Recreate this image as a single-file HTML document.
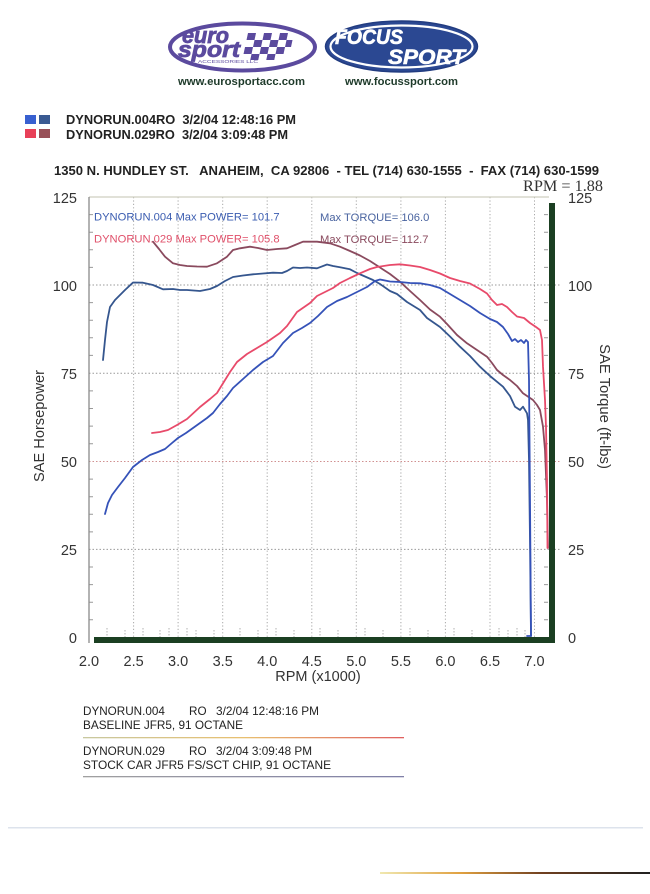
<!DOCTYPE html>
<html><head><meta charset="utf-8"><style>
html,body{margin:0;padding:0;background:#fff;}
svg{display:block;}
</style></head><body>
<svg width="650" height="894" viewBox="0 0 650 894" xmlns="http://www.w3.org/2000/svg" font-family="Liberation Sans, Arial, sans-serif">
<rect width="650" height="894" fill="#fff"/>

<!-- Eurosport logo -->
<ellipse cx="242.5" cy="47" rx="72.5" ry="23.5" fill="#fff" stroke="#5b4a9e" stroke-width="4"/>
<text x="182" y="43" font-size="22" font-weight="bold" font-style="italic" fill="#5b4a9e" stroke="#5b4a9e" stroke-width="0.8" textLength="47" lengthAdjust="spacingAndGlyphs">euro</text>
<text x="178" y="57" font-size="22" font-weight="bold" font-style="italic" fill="#5b4a9e" stroke="#5b4a9e" stroke-width="0.8" textLength="62" lengthAdjust="spacingAndGlyphs">sport</text>
<g fill="#5b4a9e" transform="translate(244,33) skewX(-12)">
<rect x="4" y="0" width="8" height="7"/><rect x="20" y="0" width="8" height="7"/><rect x="36" y="0" width="8" height="7"/>
<rect x="12" y="7" width="8" height="7"/><rect x="28" y="7" width="8" height="7"/><rect x="44" y="7" width="6" height="7"/>
<rect x="4" y="14" width="8" height="7"/><rect x="20" y="14" width="8" height="7"/><rect x="36" y="14" width="8" height="7"/>
<rect x="12" y="21" width="8" height="6"/><rect x="28" y="21" width="8" height="6"/>
</g>
<text x="198" y="63" font-size="4.5" fill="#5b4a9e" textLength="60" lengthAdjust="spacingAndGlyphs">ACCESSORIES LLC</text>
<text x="178" y="85" font-size="11.4" font-weight="bold" fill="#1e3a2a" textLength="127" lengthAdjust="spacingAndGlyphs">www.eurosportacc.com</text>

<!-- Focus Sport logo -->
<ellipse cx="401.5" cy="46.5" rx="76" ry="25.5" fill="#2b4892" stroke="#223c80" stroke-width="1.5"/>
<ellipse cx="401.5" cy="46.5" rx="71" ry="21" fill="none" stroke="#fff" stroke-width="2.2"/>
<text x="335" y="44" font-size="21" font-weight="bold" font-style="italic" fill="#fff" stroke="#fff" stroke-width="0.6" textLength="68" lengthAdjust="spacingAndGlyphs">FOCUS</text>
<text x="388" y="64" font-size="21" font-weight="bold" font-style="italic" fill="#fff" stroke="#fff" stroke-width="0.6" textLength="77" lengthAdjust="spacingAndGlyphs">SPORT</text>
<text x="345" y="85" font-size="11.4" font-weight="bold" fill="#1e3a2a" textLength="113" lengthAdjust="spacingAndGlyphs">www.focussport.com</text>

<!-- header legend -->
<rect x="25" y="115" width="11" height="9" fill="#3860d0"/>
<rect x="39" y="115" width="11" height="9" fill="#3a5a92"/>
<rect x="25" y="129" width="11" height="9" fill="#e84058"/>
<rect x="39" y="129" width="11" height="9" fill="#985058"/>
<text x="66" y="124" font-size="13" font-weight="bold" fill="#222" textLength="230" lengthAdjust="spacingAndGlyphs" xml:space="preserve">DYNORUN.004RO  3/2/04 12:48:16 PM</text>
<text x="66" y="139" font-size="13" font-weight="bold" fill="#222" textLength="222" lengthAdjust="spacingAndGlyphs" xml:space="preserve">DYNORUN.029RO  3/2/04 3:09:48 PM</text>

<text x="54" y="175" font-size="13" font-weight="bold" fill="#222" textLength="545" lengthAdjust="spacingAndGlyphs" xml:space="preserve">1350 N. HUNDLEY ST.   ANAHEIM,  CA 92806  - TEL (714) 630-1555  -  FAX (714) 630-1599</text>

<text x="523" y="191" font-family="Liberation Serif, Times New Roman, serif" font-size="15.5" fill="#333" textLength="80" lengthAdjust="spacingAndGlyphs">RPM = 1.88</text>

<!-- grid -->
<g stroke="#a8a8a8" stroke-width="1" stroke-dasharray="1.2 2.2" fill="none">
<line x1="133.6" y1="197" x2="133.6" y2="637"/>
<line x1="178.1" y1="197" x2="178.1" y2="637"/>
<line x1="222.7" y1="197" x2="222.7" y2="637"/>
<line x1="267.2" y1="197" x2="267.2" y2="637"/>
<line x1="311.8" y1="197" x2="311.8" y2="637"/>
<line x1="356.3" y1="197" x2="356.3" y2="637"/>
<line x1="400.9" y1="197" x2="400.9" y2="637"/>
<line x1="445.4" y1="197" x2="445.4" y2="637"/>
<line x1="490.0" y1="197" x2="490.0" y2="637"/>
<line x1="534.5" y1="197" x2="534.5" y2="637"/>
</g>
<g stroke="#999" stroke-width="1" stroke-dasharray="1.5 2" fill="none">
<line x1="89" y1="285" x2="561" y2="285"/>
<line x1="89" y1="373.3" x2="561" y2="373.3"/>
<line x1="89" y1="461.5" x2="561" y2="461.5" stroke="#d09090"/>
<line x1="89" y1="549.4" x2="561" y2="549.4"/>
</g>

<!-- minor ticks -->
<g stroke="#999" stroke-width="1">
<path d="M89 214.6h4M89 232.2h4M89 249.8h4M89 267.4h4M89 302.6h4M89 320.2h4M89 337.8h4M89 355.4h4M89 390.9h4M89 408.5h4M89 426.1h4M89 443.7h4M89 479.1h4M89 496.7h4M89 514.3h4M89 531.9h4M89 567h4M89 584.6h4M89 602.2h4M89 619.8h4"/>
<path d="M544 214.6h4M544 232.2h4M544 249.8h4M544 267.4h4M544 302.6h4M544 320.2h4M544 337.8h4M544 355.4h4M544 390.9h4M544 408.5h4M544 426.1h4M544 443.7h4M544 479.1h4M544 496.7h4M544 514.3h4M544 531.9h4M544 567h4M544 584.6h4M544 602.2h4M544 619.8h4"/>
</g>
<g stroke="#b0b0b0" stroke-width="1" stroke-dasharray="1.5 1.5">
<path d="M107 628v9M125 630v7M143 628v9M160 630v7M169 628v9M187 628v9M196 630v7M214 630v7M240 628v9M258 630v7M276 628v9M294 630v7M320 628v9M338 630v7M365 628v9M383 630v7M410 628v9M428 630v7M454 628v9M472 630v7M499 628v9M508 630v7M517 628v9M525 630v7"/>
</g>

<!-- frame -->
<line x1="89" y1="197" x2="549" y2="197" stroke="#cfcfc0" stroke-width="1.2"/>
<line x1="89" y1="197" x2="89" y2="643" stroke="#8a8a8a" stroke-width="1.3"/>

<!-- in-plot annotations -->
<text x="94" y="220.5" font-size="11.2" fill="#3a5cb0">DYNORUN.004 Max POWER= 101.7</text>
<text x="320" y="221" font-size="11.2" fill="#4a64a0">Max TORQUE= 106.0</text>
<text x="94" y="242.5" font-size="11.2" fill="#e0506a">DYNORUN.029 Max POWER= 105.8</text>
<text x="320" y="243" font-size="11.2" fill="#8a4a5e">Max TORQUE= 112.7</text>

<!-- curves -->
<g fill="none" stroke-width="1.8" stroke-linejoin="round" stroke-linecap="round">
<polyline stroke="#8a4a5e" points="153,241.7 159,249 165,256.7 173,263.3 180,265 187,266 197,266.5 207,266.7 217,263.3 227,256.7 233,250 240,248.3 250,246.7 258,248 267,250 277,249 287,248.3 295,245 303,241.7 317,241.7 330,243.3 340,246.7 350,251 360,255.5 370,261 380,267.5 390,274 400,281.7 410,291 420,300 430,309.5 440,316.7 447,324 457,335 467,343.3 477,350 487,356.7 492,363 497,370 503,375 510,380 517,386 523,393.3 533,400 537,405 540,410 543,426.7 545,450 547,500 548,548"/>
<polyline stroke="#35568e" points="103,360 105,340 107,322 110,307 115,300 120,295 125,290 133,282.5 143,282.7 153,285 163,289.3 173,289 180,290 187,290 200,291 210,289 217,286 225,281 233,277 243,275.5 253,274.3 263,273.5 273,272.7 282,273 287,271 293,267.5 300,268 307,267.5 317,268.3 327,264.5 333,266 340,267.3 350,269.3 357,273 365,276.5 373,280 380,284 390,291 397,294 407,302 420,310 427,318 440,327 450,336.5 460,346.7 470,356 480,366.7 490,376 503,386.7 510,396 515,406.7 520,410 523,406.7 527,413.3 528,420 529,460 530,540 531,636"/>
<polyline stroke="#e84a6a" points="152,433 160,432 168,430 177,425 187,419 200,407 210,399 217,393 230,372 237,362 247,354 257,348 267,342 280,333 287,326 297,312 310,303 317,296 325,292 333,288 340,283 350,278 360,273.3 370,269 377,267 390,265 400,264.3 410,265.5 420,267 430,270 440,273.5 450,278 460,281 470,283.5 480,289 487,293.5 492,300 497,305 502,304 507,307 512,312 517,316.5 524,318 530,323 536,327 540,330 542,340 543,366.7 545,400 546,427 547,480 547.5,548"/>
<polyline stroke="#3552b8" points="105,514 108,503 112,495 118,487 125,478 133,467 142,460 150,455 158,452 165,449 172,443 178,438 186,433 193,428 200,423 207,418 213,413 220,404 227,396 233,388 243,379 253,370 263,362 273,356 283,343 293,333 302,328 310,323 318,316 327,307 337,301 347,297 357,292 367,287 375,281 380,279.5 390,281.5 400,282 410,283 420,283.3 430,285 440,288 450,294 460,300 470,306 480,313 490,319 497,322 503,327 508,334 512,341 515,339 518,342 521,340 524,343 526,340 528,342 529,380 530,500 531,636 527,636"/>
</g>

<!-- thick green bars -->
<rect x="549" y="203" width="6" height="440" fill="#1b3f22"/>
<rect x="94" y="637" width="461" height="6" fill="#1b3f22"/>

<!-- axis labels -->
<g font-size="14.5" fill="#333" text-anchor="end">
<text x="77" y="203">125</text>
<text x="77" y="291">100</text>
<text x="77" y="379">75</text>
<text x="77" y="467">50</text>
<text x="77" y="555">25</text>
<text x="77" y="643">0</text>
</g>
<g font-size="14.5" fill="#333">
<text x="568" y="203">125</text>
<text x="568" y="291">100</text>
<text x="568" y="379">75</text>
<text x="568" y="467">50</text>
<text x="568" y="555">25</text>
<text x="568" y="643">0</text>
</g>
<g font-size="14.5" fill="#333" text-anchor="middle">
<text x="89" y="666">2.0</text>
<text x="133.6" y="666">2.5</text>
<text x="178.1" y="666">3.0</text>
<text x="222.7" y="666">3.5</text>
<text x="267.2" y="666">4.0</text>
<text x="311.8" y="666">4.5</text>
<text x="356.3" y="666">5.0</text>
<text x="400.9" y="666">5.5</text>
<text x="445.4" y="666">6.0</text>
<text x="490" y="666">6.5</text>
<text x="534.5" y="666">7.0</text>
<text x="318" y="681">RPM (x1000)</text>
</g>
<text transform="translate(44,426) rotate(-90)" font-size="14.6" fill="#333" text-anchor="middle">SAE Horsepower</text>
<text transform="translate(600,406.5) rotate(90)" font-size="14.8" fill="#333" text-anchor="middle">SAE Torque (ft-lbs)</text>

<!-- bottom notes -->
<g font-size="11.7" fill="#222">
<text x="83" y="715">DYNORUN.004</text>
<text x="189" y="715">RO</text>
<text x="216" y="715" textLength="103" lengthAdjust="spacingAndGlyphs">3/2/04 12:48:16 PM</text>
<text x="83" y="729" textLength="160" lengthAdjust="spacingAndGlyphs">BASELINE JFR5, 91 OCTANE</text>
<text x="83" y="755">DYNORUN.029</text>
<text x="189" y="755">RO</text>
<text x="216" y="755" textLength="96" lengthAdjust="spacingAndGlyphs">3/2/04 3:09:48 PM</text>
<text x="83" y="769" textLength="248" lengthAdjust="spacingAndGlyphs">STOCK CAR JFR5 FS/SCT CHIP, 91 OCTANE</text>
</g>
<defs>
<linearGradient id="g1" x1="0" x2="1"><stop offset="0" stop-color="#c8c8a0"/><stop offset="0.5" stop-color="#e8c070"/><stop offset="1" stop-color="#e06060"/></linearGradient>
<linearGradient id="g2" x1="0" x2="1"><stop offset="0" stop-color="#a0a0a0"/><stop offset="1" stop-color="#8080a8"/></linearGradient>
<linearGradient id="g3" x1="0" x2="1"><stop offset="0" stop-color="#f0e8b0"/><stop offset="0.3" stop-color="#e0a040"/><stop offset="0.6" stop-color="#704020"/><stop offset="1" stop-color="#202020"/></linearGradient>
</defs>
<rect x="83" y="737" width="321" height="1.3" fill="url(#g1)"/>
<rect x="83" y="776" width="321" height="1.3" fill="url(#g2)"/>
<rect x="8" y="827" width="635" height="1.5" fill="#dde3ec"/>
<rect x="380" y="872" width="270" height="2" fill="url(#g3)"/>
</svg>
</body></html>
